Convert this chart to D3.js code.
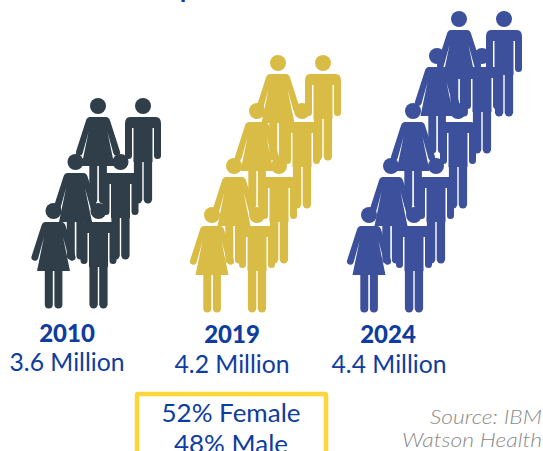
<!DOCTYPE html>
<html>
<head>
<meta charset="utf-8">
<script src="https://cdn.jsdelivr.net/npm/d3@7/dist/d3.min.js"></script>
<style>
  html, body { margin: 0; padding: 0; background: #fff; overflow: hidden; }
  svg { display: block; }
  text { font-family: Lato, sans-serif; }
</style>
</head>
<body>
<div id="chart-container"></div>
<script>
const years = ['2010', '2019', '2024']
const populations = [3.6, 4.2, 4.4]
const pairCounts = [3, 4, 5]
const genderSplit = ['52% Female', '48% Male']
const sourceLines = ['Source: IBM', 'Watson Health']

const chartWidth = 543
const chartHeight = 451
const textBlue = '#0f3c9f'
const colors = d3.scaleOrdinal().domain(years).range(['#2f3e49', '#d9bc45', '#3c509c'])

// rows are not evenly spaced in the picture, so each group gets its own piecewise scale
const rowX = {
  2010: d3.scaleLinear().domain([0, 1, 2]).range([53.5, 75.5, 98]),
  2019: d3.scaleLinear().domain([0, 1, 2, 3]).range([212, 234, 257, 278]),
  2024: d3.scaleLinear().domain([0, 1, 2, 3, 4]).range([369, 391, 413, 437, 459])
}
const rowY = {
  2010: d3.scaleLinear().domain([0, 1, 2]).range([211, 162, 106]),
  2019: d3.scaleLinear().domain([0, 1, 2, 3]).range([215, 166, 111, 63]),
  2024: d3.scaleLinear().domain([0, 1, 2, 3, 4]).range([215, 166, 111, 56, 19])
}
const manOffset = 45

const yearX = { 2010: 67, 2019: 232, 2024: 388 }
const valueX = { 2010: 67, 2019: 232, 2024: 389 }
const yearY = { 2010: 342, 2019: 343, 2024: 343 }
const valueY = { 2010: 371, 2019: 373, 2024: 373 }
const splitWidths = [139, 114]
const sourceWidths = [112, 140]

const svg = d3
  .select('#chart-container')
  .append('svg')
  .attr('width', chartWidth)
  .attr('height', chartHeight)

const womanPath =
  'M-8,11 L8,11 Q11,11 12,14.5 L21.8,45 A3.4,3.4 0 0 1 15.4,47.5 L9.5,26 L16.5,60 L-16.5,60 L-9.5,26 ' +
  'L-15.4,47.5 A3.4,3.4 0 0 1 -21.8,45 L-12,14.5 Q-11,11 -8,11 Z'
const manPath =
  'M-13,11 H13 Q18,11 18,18 V49.5 A3.5,3.5 0 0 1 11,49.5 V22 H9.5 V56 H-9.5 V22 H-11 V49.5 ' +
  'A3.5,3.5 0 0 1 -18,49.5 V18 Q-18,11 -13,11 Z'

const defs = svg.append('defs')

const addFigure = (id, bodyPath, legLeft, legRight, legWidth, legTop) => {
  const g = defs.append('g').attr('id', id)
  g.append('circle').attr('r', 8)
  g.append('path').attr('d', bodyPath)
  ;[legLeft, legRight].forEach(x =>
    g
      .append('rect')
      .attr('x', x)
      .attr('y', legTop)
      .attr('width', legWidth)
      .attr('height', 97.5 - legTop)
      .attr('rx', legWidth / 2)
  )
}

addFigure('woman', womanPath, -8.7, 0.9, 8, 52)
addFigure('man', manPath, -9.1, 0.7, 8.4, 48)

const drawGroup = (year, i) => {
  const rows = d3.range(pairCounts[i]).reverse()
  const group = svg.append('g').attr('class', 'people').attr('fill', colors(year))

  const pairs = group
    .selectAll('g')
    .data(rows)
    .enter()
    .append('g')
    .attr('transform', d => `translate(${rowX[year](d)},${rowY[year](d)})`)

  pairs.append('use').attr('href', '#man').attr('x', manOffset)
  pairs.append('use').attr('href', '#woman')
}

years.forEach(drawGroup)

// only the descender of the cropped title is left in the picture
svg
  .append('text')
  .attr('x', 180)
  .attr('y', -2)
  .attr('font-size', 24)
  .attr('font-weight', 900)
  .attr('fill', textBlue)
  .text('p')

const labels = svg.selectAll('.label').data(years).enter().append('g').attr('class', 'label')

labels
  .append('text')
  .attr('x', d => yearX[d])
  .attr('y', d => yearY[d])
  .attr('text-anchor', 'middle')
  .attr('font-size', 24)
  .attr('font-weight', 900)
  .attr('fill', textBlue)
  .text(d => d)

labels
  .append('text')
  .attr('x', d => valueX[d])
  .attr('y', d => valueY[d])
  .attr('text-anchor', 'middle')
  .attr('font-size', 25)
  .attr('fill', textBlue)
  .attr('textLength', 115)
  .attr('lengthAdjust', 'spacingAndGlyphs')
  .text((d, i) => `${populations[i]} Million`)

// box runs off the bottom edge like the reference
svg
  .append('rect')
  .attr('x', 137)
  .attr('y', 394)
  .attr('width', 189)
  .attr('height', 80)
  .attr('rx', 1)
  .attr('fill', 'none')
  .attr('stroke', '#ffd63a')
  .attr('stroke-width', 4.5)

svg
  .selectAll('.split')
  .data(genderSplit)
  .enter()
  .append('text')
  .attr('class', 'split')
  .attr('x', 231)
  .attr('y', (d, i) => 422 + i * 31)
  .attr('text-anchor', 'middle')
  .attr('font-size', 25)
  .attr('fill', textBlue)
  .attr('textLength', (d, i) => splitWidths[i])
  .attr('lengthAdjust', 'spacingAndGlyphs')
  .text(d => d)

svg
  .selectAll('.source')
  .data(sourceLines)
  .enter()
  .append('text')
  .attr('class', 'source')
  .attr('x', 542)
  .attr('y', (d, i) => 424 + i * 23)
  .attr('text-anchor', 'end')
  .attr('font-size', 19)
  .attr('font-weight', 300)
  .attr('font-style', 'italic')
  .attr('fill', '#8a8a8a')
  .attr('textLength', (d, i) => sourceWidths[i])
  .attr('lengthAdjust', 'spacingAndGlyphs')
  .text(d => d)
</script>
</body>
</html>
